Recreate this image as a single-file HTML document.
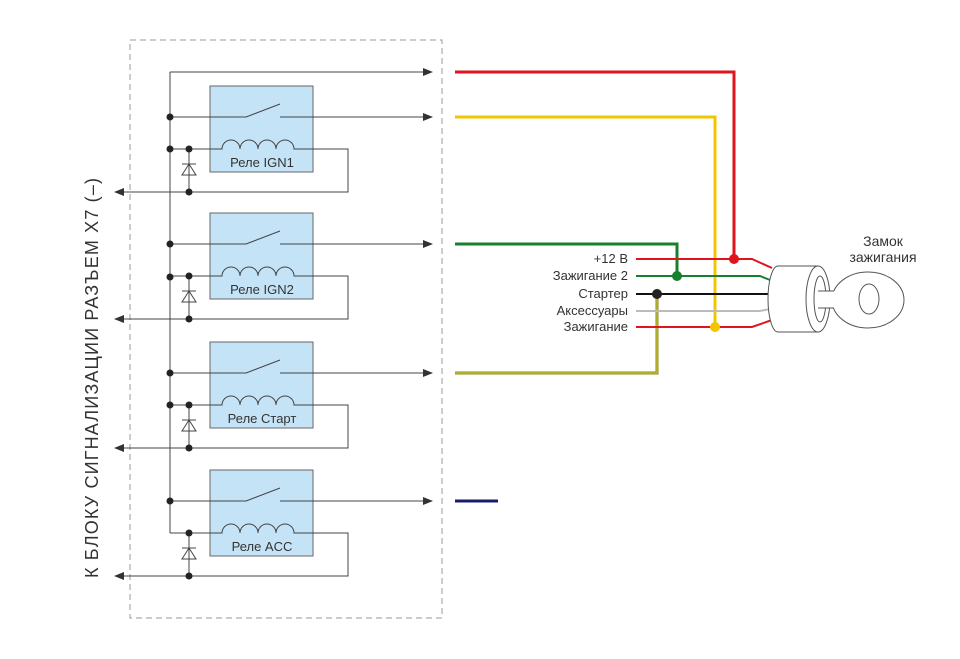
<!DOCTYPE html>
<html><head><meta charset="utf-8"><style>body{margin:0;background:#fff}svg{display:block}</style></head><body>
<svg width="960" height="659" viewBox="0 0 960 659" xmlns="http://www.w3.org/2000/svg" font-family="Liberation Sans, sans-serif">
<defs>
<marker id="a" markerWidth="10" markerHeight="8" refX="9" refY="4" orient="auto" markerUnits="userSpaceOnUse"><path d="M0,0 L10,4 L0,8 Z" fill="#333"/></marker>
<g id="r">
<rect x="210" y="86" width="103" height="86" fill="#c5e3f6" stroke="#666"/>
<g stroke="#444" fill="none">
<line x1="170" y1="117" x2="246" y2="117"/>
<line x1="246" y1="117" x2="280" y2="104"/>
<line x1="280" y1="117" x2="432" y2="117" marker-end="url(#a)"/>
<path d="M170 149 H222 a9 9 0 0 1 18 0 a9 9 0 0 1 18 0 a9 9 0 0 1 18 0 a9 9 0 0 1 18 0 H348 V192 H115" marker-end="url(#a)"/>
<line x1="189" y1="149" x2="189" y2="192"/>
<path d="M182 175 L196 175 L189 164 Z"/>
<line x1="182" y1="164" x2="196" y2="164"/>
</g>
<circle cx="170" cy="117" r="3.5" fill="#222"/>
<circle cx="189" cy="149" r="3.5" fill="#222"/>
<circle cx="189" cy="192" r="3.5" fill="#222"/>
</g>
</defs>
<rect x="130" y="40" width="312" height="578" fill="none" stroke="#999" stroke-dasharray="6,4" stroke-width="1"/>
<g stroke="#444" stroke-width="1" fill="none">
<line x1="170" y1="72" x2="170" y2="533"/>
<line x1="170" y1="72" x2="432" y2="72" marker-end="url(#a)"/>
</g>
<use href="#r"/>
<use href="#r" transform="translate(0,127)"/>
<use href="#r" transform="translate(0,256)"/>
<use href="#r" transform="translate(0,384)"/>
<circle cx="170" cy="149" r="3.5" fill="#222"/>
<circle cx="170" cy="277" r="3.5" fill="#222"/>
<circle cx="170" cy="405" r="3.5" fill="#222"/>
<g font-size="13" fill="#333" text-anchor="middle">
<text x="262" y="167">Реле IGN1</text>
<text x="262" y="294">Реле IGN2</text>
<text x="262" y="423">Реле Старт</text>
<text x="262" y="551">Реле ACC</text>
</g>
<text transform="translate(98,578) rotate(-90)" font-size="18" fill="#333" textLength="400" lengthAdjust="spacing">К БЛОКУ СИГНАЛИЗАЦИИ РАЗЪЕМ Х7 (–)</text>
<g fill="none" stroke-width="3">
<path d="M455 72 H734 V259" stroke="#e0141c"/>
<path d="M455 117 H715 V327" stroke="#f2c500"/>
<path d="M455 244 H677 V276" stroke="#17802e"/>
<path d="M455 373 H657 V294" stroke="#8a8a18"/>
<path d="M455 373 H657 V294" stroke="#d8d040" stroke-width="1"/>
<path d="M455 501 H498" stroke="#1a1a6e"/>
</g>
<g fill="none" stroke-width="2">
<path d="M636 259 H752 L772 268" stroke="#e0141c"/>
<path d="M636 276 H760 L770 280" stroke="#17802e"/>
<path d="M636 294 H770" stroke="#111"/>
<path d="M636 311 H760 L770 309" stroke="#bbb"/>
<path d="M636 327 H752 L772 320" stroke="#e0141c"/>
</g>
<circle cx="734" cy="259" r="5" fill="#e0141c"/>
<circle cx="677" cy="276" r="5" fill="#17802e"/>
<circle cx="657" cy="294" r="5" fill="#222"/>
<circle cx="715" cy="327" r="5" fill="#f2c500"/>
<g font-size="13" fill="#333" text-anchor="end">
<text x="628" y="263">+12 В</text>
<text x="628" y="280">Зажигание 2</text>
<text x="628" y="298">Стартер</text>
<text x="628" y="315">Аксессуары</text>
<text x="628" y="331">Зажигание</text>
</g>
<g font-size="14" fill="#333" text-anchor="middle"><text x="883" y="246">Замок</text><text x="883" y="262">зажигания</text></g>
<g fill="#fff" stroke="#555" stroke-width="1">
<path d="M778 266 H818 V332 H778 A10 33 0 0 1 778 266 Z"/>
<ellipse cx="818" cy="299" rx="12" ry="33"/>
<ellipse cx="820" cy="299" rx="6" ry="23"/>
<ellipse cx="868" cy="300" rx="36" ry="28"/>
<path d="M818 291 H836 V308 H818 Z" stroke="none"/>
<path d="M818 291 H834 M818 308 H834"/>
<ellipse cx="869" cy="299" rx="10" ry="15"/>
</g>
</svg>
</body></html>
